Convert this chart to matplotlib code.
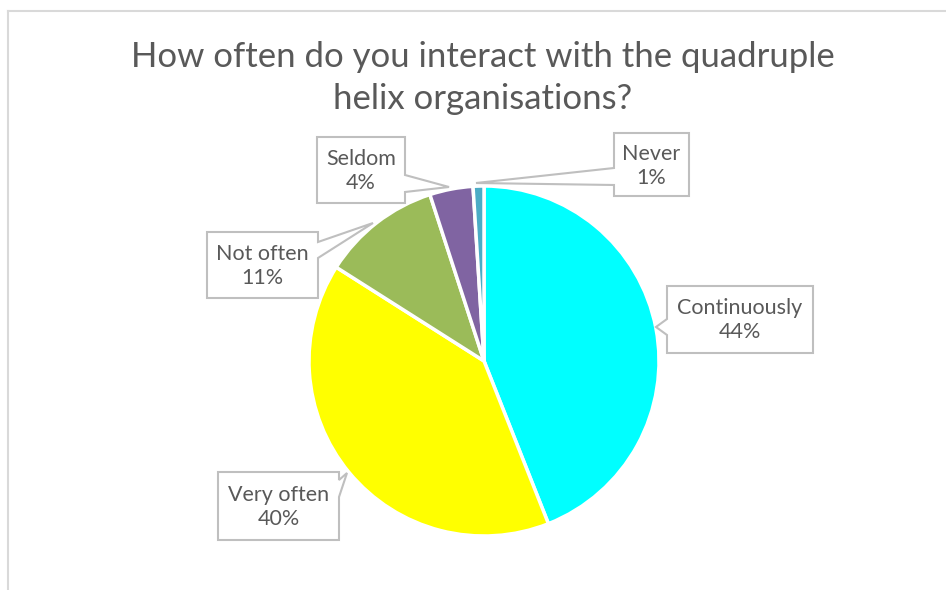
import matplotlib
matplotlib.use('Agg')
import matplotlib.pyplot as plt
from matplotlib.patches import Polygon

plt.rcParams['font.family'] = ['Lato', 'DejaVu Sans']

# data
labels = ['Continuously', 'Very often', 'Not often', 'Seldom', 'Never']
shares = [44, 40, 11, 4, 1]
colors = ['#00FFFF', '#FFFF00', '#9BBB59', '#8064A2', '#4BACC6']
title = 'How often do you interact with the quadruple\nhelix organisations?'

W, H = 946, 590
text_col = '#595959'
edge_col = '#BFBFBF'


def py(y):
    # pixel row (from top) -> data y
    return H - y


fig = plt.figure(figsize=(W / 100, H / 100), dpi=100)
ax = fig.add_axes([0, 0, 1, 1])

# chart frame (only top and left edges visible)
ax.plot([7.5, 7.5], [py(590), py(10.5)], color='#D9D9D9', lw=1.5)
ax.plot([7.5, W], [py(10.5), py(10.5)], color='#D9D9D9', lw=1.5)

ax.text(483, py(78), title, ha='center', va='center', fontsize=25,
        color=text_col, linespacing=1.35)

ax.pie(shares, colors=colors, startangle=90, counterclock=False,
       center=(484, py(361)), radius=175, frame=True,
       wedgeprops=dict(edgecolor='white', linewidth=2.5))
ax.set_xlim(0, W)
ax.set_ylim(0, H)
ax.set_aspect('equal')
ax.axis('off')

# callout boxes: (left, top, right, bottom), side of notch, notch base, tip
callouts = {
    'Continuously': ((667, 286, 813, 353), 'left', (319, 335), (656, 327)),
    'Very often': ((218, 472, 339, 540), 'right', (480, 497), (347, 473)),
    'Not often': ((207, 232, 318, 298), 'right', (242, 258), (373, 223)),
    'Seldom': ((317, 137, 405, 203), 'right', (175, 192), (449, 187)),
    'Never': ((614, 133, 689, 196), 'left', (168, 185), (476, 183)),
}

for lab, pct in zip(labels, shares):
    (l, t, r, b), side, (n0, n1), (tx, ty) = callouts[lab]
    if side == 'left':
        pts = [(l, t), (r, t), (r, b), (l, b), (l, n1), (tx, ty), (l, n0)]
    else:
        pts = [(l, t), (r, t), (r, n0), (tx, ty), (r, n1), (r, b), (l, b)]
    pts = [(x, py(y)) for x, y in pts]
    ax.add_patch(Polygon(pts, closed=True, facecolor='white',
                         edgecolor=edge_col, lw=1.5, zorder=5))
    ax.text((l + r) / 2, py((t + b) / 2 + 1), f'{lab}\n{pct}%', ha='center',
            va='center', fontsize=15.5, color=text_col, linespacing=1.25,
            zorder=6)

fig.savefig('out.png', dpi=100)
